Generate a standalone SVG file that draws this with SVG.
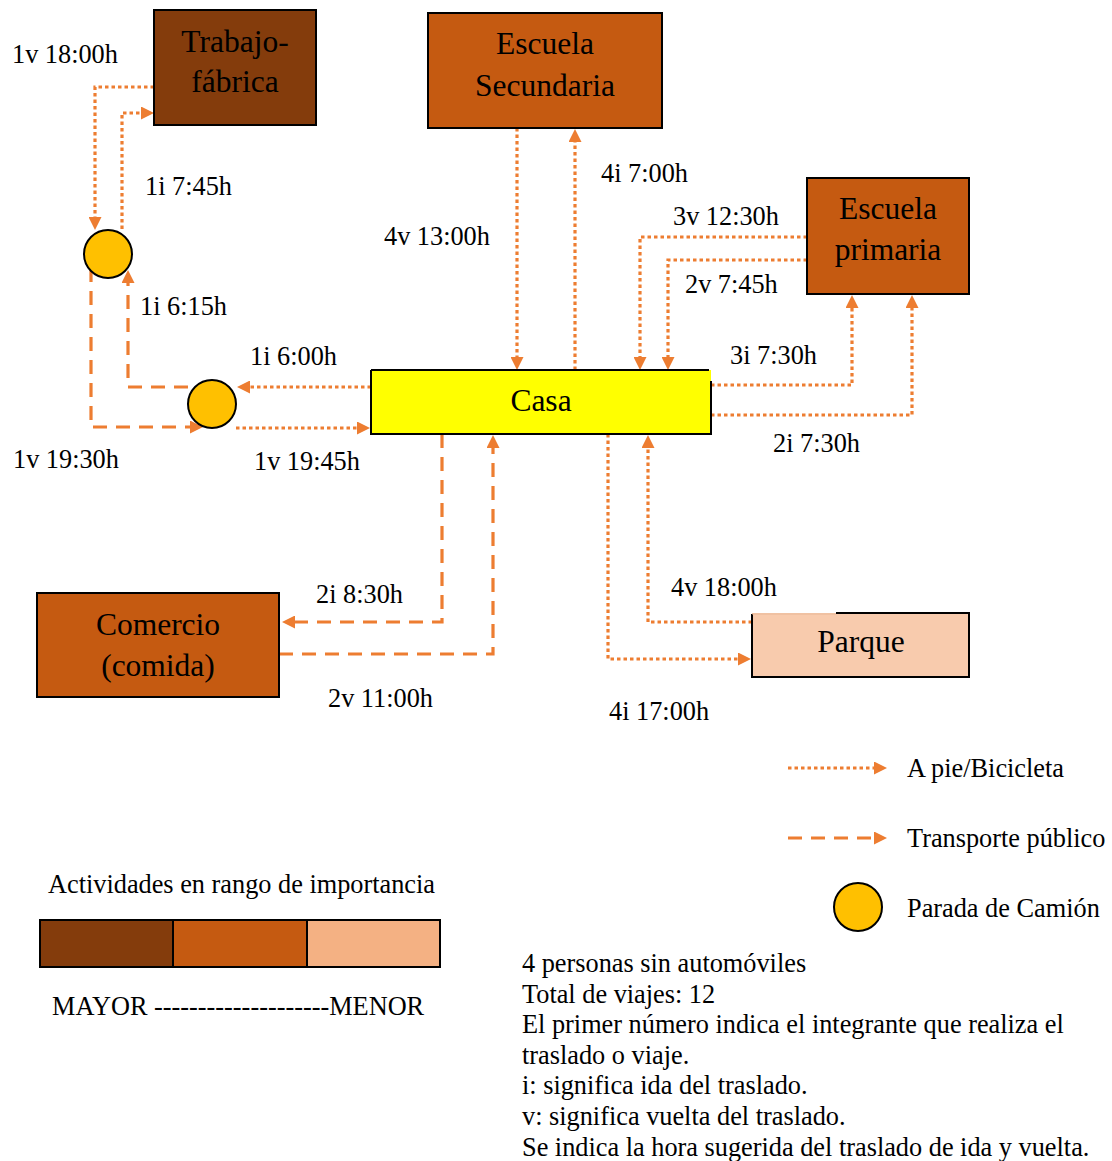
<svg xmlns="http://www.w3.org/2000/svg" width="1112" height="1161" viewBox="0 0 1112 1161">
  <style>
    text { font-family: "Liberation Serif", "Times New Roman", serif; fill: #000; }
    .node { font-size: 31.5px; text-anchor: middle; }
    .lbl { font-size: 26.3px; }
    .box { stroke: #000; stroke-width: 2; }
    .walk { fill: none; stroke: #ED7D31; stroke-width: 3.2; stroke-dasharray: 3.5 3; marker-end: url(#arrow); }
    .bus { fill: none; stroke: #ED7D31; stroke-width: 3.2; stroke-dasharray: 14 9; marker-end: url(#arrow); }
    .stop { fill: #FFC000; stroke: #000; stroke-width: 2; }
  </style>
  <defs>
    <marker id="arrow" viewBox="0 0 13 13" refX="3" refY="6.5" markerWidth="13" markerHeight="13" markerUnits="userSpaceOnUse" orient="auto">
      <path d="M0,0 L13,6.5 L0,13 Z" fill="#ED7D31"/>
    </marker>
  </defs>

  <rect width="1112" height="1161" fill="#fff"/>

  <!-- Connectors: dotted = walking/bike, dashed = public transport -->
  <g id="connectors">
    <g id="c-1v-1800"><path class="walk" d="M154,87 H95 V220"/><text class="lbl" x="12" y="63">1v 18:00h</text></g>
    <g id="c-1i-0745"><path class="walk" d="M122,229 V113 H144"/><text class="lbl" x="145" y="195">1i 7:45h</text></g>
    <g id="c-1i-0615"><path class="bus" d="M188,387 H128 V280"/><text class="lbl" x="140" y="315">1i 6:15h</text></g>
    <g id="c-1v-1930"><path class="bus" d="M91,268 V427 H193"/><text class="lbl" x="13" y="468">1v 19:30h</text></g>
    <g id="c-1i-0600"><path class="walk" d="M371,387 H247"/><text class="lbl" x="250" y="365">1i 6:00h</text></g>
    <g id="c-1v-1945"><path class="walk" d="M236,428 H360"/><text class="lbl" x="254" y="470">1v 19:45h</text></g>
    <g id="c-4v-1300"><path class="walk" d="M517,128 V360"/><text class="lbl" x="384" y="245">4v 13:00h</text></g>
    <g id="c-4i-0700"><path class="walk" d="M575,370 V139"/><text class="lbl" x="601" y="182">4i 7:00h</text></g>
    <g id="c-3v-1230"><path class="walk" d="M807,237 H640 V360"/><text class="lbl" x="673" y="225">3v 12:30h</text></g>
    <g id="c-2v-0745"><path class="walk" d="M807,260 H668 V360"/><text class="lbl" x="685" y="293">2v 7:45h</text></g>
    <g id="c-3i-0730"><path class="walk" d="M711,385 H852 V305"/><text class="lbl" x="730" y="364">3i 7:30h</text></g>
    <g id="c-2i-0730"><path class="walk" d="M711,415 H912 V305"/><text class="lbl" x="773" y="452">2i 7:30h</text></g>
    <g id="c-2i-0830"><path class="bus" d="M442,434 V622 H292"/><text class="lbl" x="316" y="603">2i 8:30h</text></g>
    <g id="c-2v-1100"><path class="bus" d="M279,654 H493 V445"/><text class="lbl" x="328" y="707">2v 11:00h</text></g>
    <g id="c-4i-1700"><path class="walk" d="M608,434 V659 H741"/><text class="lbl" x="609" y="720">4i 17:00h</text></g>
    <g id="c-4v-1800"><path class="walk" d="M752,622 H648 V445"/><text class="lbl" x="671" y="596">4v 18:00h</text></g>
  </g>

  <!-- Activity nodes -->
  <g id="trabajo">
    <rect class="box" x="154" y="10" width="162" height="115" fill="#843C0C"/>
    <text class="node" x="235" y="52">Trabajo-</text>
    <text class="node" x="235" y="92">fábrica</text>
  </g>
  <g id="escuela-secundaria">
    <rect class="box" x="428" y="13" width="234" height="115" fill="#C55A11"/>
    <text class="node" x="545" y="54">Escuela</text>
    <text class="node" x="545" y="96">Secundaria</text>
  </g>
  <g id="escuela-primaria">
    <rect class="box" x="807" y="178" width="162" height="116" fill="#C55A11"/>
    <text class="node" x="888" y="219">Escuela</text>
    <text class="node" x="888" y="260">primaria</text>
  </g>
  <g id="casa">
    <rect x="371" y="370" width="340" height="64" fill="#FFFF00"/>
    <path d="M371,370 H709 M711,381 V434 H371 V370" fill="none" stroke="#000" stroke-width="2"/>
    <text class="node" x="541" y="411">Casa</text>
  </g>
  <g id="comercio">
    <rect class="box" x="37" y="593" width="242" height="104" fill="#C55A11"/>
    <text class="node" x="158" y="635">Comercio</text>
    <text class="node" x="158" y="676">(comida)</text>
  </g>
  <g id="parque">
    <rect x="752" y="613" width="217" height="64" fill="#F8CBAD"/>
    <path d="M836,613 H969 V677 H752 V614" fill="none" stroke="#000" stroke-width="2"/>
    <path d="M752,614 H836" fill="none" stroke="#E8B898" stroke-width="1"/>
    <text class="node" x="861" y="652">Parque</text>
  </g>

  <!-- Bus stops -->
  <g id="parada-1"><circle class="stop" cx="108" cy="254" r="24"/></g>
  <g id="parada-2"><circle class="stop" cx="212" cy="404" r="24"/></g>

  <!-- Legend: transport modes -->
  <g id="legend-modes">
    <path class="walk" d="M788,768 H877"/>
    <text class="lbl" x="907" y="777">A pie/Bicicleta</text>
    <path class="bus" d="M788,838 H877"/>
    <text class="lbl" x="907" y="847">Transporte público</text>
    <circle class="stop" cx="858" cy="907" r="24"/>
    <text class="lbl" x="907" y="917">Parada de Camión</text>
  </g>

  <!-- Legend: importance scale -->
  <g id="legend-importance">
    <text class="lbl" x="48" y="893">Actividades en rango de importancia</text>
    <rect x="40" y="920" width="133" height="47" fill="#843C0C"/>
    <rect x="173" y="920" width="134" height="47" fill="#C55A11"/>
    <rect x="307" y="920" width="133" height="47" fill="#F4B183"/>
    <path d="M40,920 H440 V967 H40 Z M173,920 V967 M307,920 V967" fill="none" stroke="#000" stroke-width="2"/>
    <text class="lbl" x="52" y="1015">MAYOR --------------------MENOR</text>
  </g>

  <!-- Notes -->
  <g id="notas">
    <text class="lbl" x="522" y="972">4 personas sin automóviles</text>
    <text class="lbl" x="522" y="1002.6">Total de viajes: 12</text>
    <text class="lbl" x="522" y="1033.2">El primer número indica el integrante que realiza el</text>
    <text class="lbl" x="522" y="1063.8">traslado o viaje.</text>
    <text class="lbl" x="522" y="1094.4">i: significa ida del traslado.</text>
    <text class="lbl" x="522" y="1125">v: significa vuelta del traslado.</text>
    <text class="lbl" x="522" y="1155.6">Se indica la hora sugerida del traslado de ida y vuelta.</text>
  </g>
</svg>
